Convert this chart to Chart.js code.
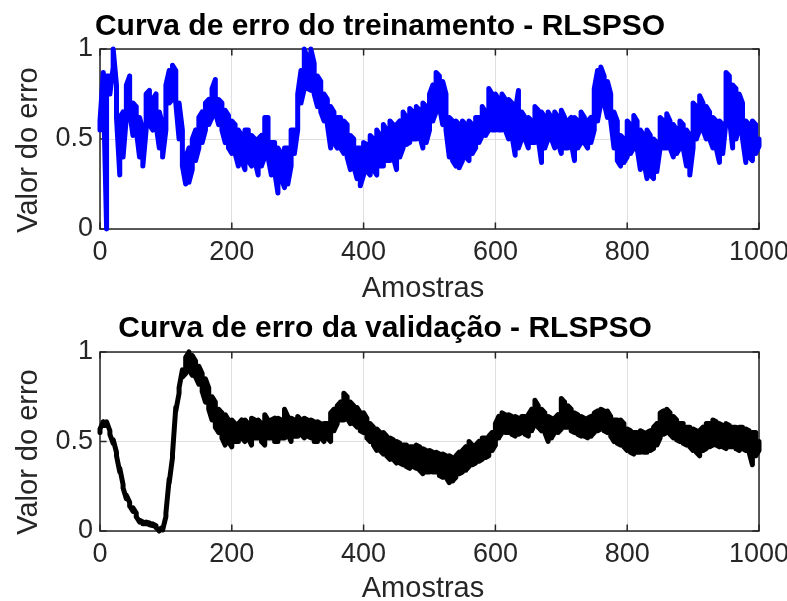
<!DOCTYPE html>
<html>
<head>
<meta charset="utf-8">
<script src="https://cdn.jsdelivr.net/npm/chart.js@4"></script>
<style>
  html, body { margin: 0; padding: 0; background: #fff; }
  #wrap { position: relative; width: 787px; height: 601px; }
  canvas { position: absolute; left: 0; }
</style>
</head>
<body>
<div id="wrap">
  <canvas id="trainChart" width="787" height="300" style="top:0"></canvas>
  <canvas id="validChart" width="787" height="301" style="top:300px"></canvas>
</div>
<script>
// the curves are very noisy, so they are read off the picture as the
// lowest and highest value inside each bucket of STEP samples (min-max)
const STEP = 5;
const trainLo = [
  0.55, 0.80, 0.00, 0.75, 0.90, 0.62, 0.30, 0.40, 0.62, 0.65,
  0.52, 0.55, 0.40, 0.35, 0.55, 0.58, 0.55, 0.58, 0.45, 0.40,
  0.55, 0.70, 0.72, 0.70, 0.50, 0.35, 0.25, 0.26, 0.33, 0.38,
  0.45, 0.48, 0.55, 0.58, 0.62, 0.65, 0.58, 0.55, 0.48, 0.45,
  0.42, 0.42, 0.35, 0.38, 0.33, 0.38, 0.35, 0.38, 0.30, 0.35,
  0.40, 0.40, 0.30, 0.32, 0.20, 0.28, 0.23, 0.25, 0.35, 0.42,
  0.55, 0.70, 0.78, 0.78, 0.77, 0.75, 0.68, 0.65, 0.60, 0.58,
  0.45, 0.48, 0.45, 0.45, 0.42, 0.40, 0.33, 0.35, 0.28, 0.24,
  0.30, 0.32, 0.30, 0.33, 0.30, 0.35, 0.35, 0.38, 0.38, 0.40,
  0.33, 0.40, 0.45, 0.47, 0.48, 0.50, 0.50, 0.52, 0.45, 0.48,
  0.55, 0.60, 0.65, 0.68, 0.58, 0.55, 0.40, 0.38, 0.35, 0.34,
  0.38, 0.40, 0.38, 0.42, 0.45, 0.48, 0.52, 0.52, 0.55, 0.55,
  0.55, 0.55, 0.55, 0.55, 0.50, 0.52, 0.41, 0.45, 0.50, 0.50,
  0.45, 0.48, 0.48, 0.50, 0.37, 0.45, 0.50, 0.50, 0.45, 0.48,
  0.42, 0.45, 0.45, 0.48, 0.38, 0.45, 0.48, 0.48, 0.45, 0.48,
  0.55, 0.60, 0.70, 0.70, 0.62, 0.60, 0.45, 0.38, 0.35, 0.37,
  0.40, 0.42, 0.45, 0.45, 0.33, 0.38, 0.28, 0.30, 0.28, 0.32,
  0.45, 0.45, 0.45, 0.45, 0.40, 0.42, 0.45, 0.45, 0.35, 0.30,
  0.45, 0.50, 0.55, 0.55, 0.50, 0.50, 0.45, 0.45, 0.37, 0.42,
  0.60, 0.62, 0.45, 0.50, 0.55, 0.50, 0.37, 0.40, 0.38, 0.42,
  0.46
];
const trainHi = [
  0.60, 0.87, 0.85, 0.85, 1.00, 0.80, 0.62, 0.65, 0.80, 0.85,
  0.70, 0.68, 0.62, 0.55, 0.75, 0.77, 0.72, 0.75, 0.65, 0.58,
  0.80, 0.88, 0.91, 0.88, 0.70, 0.55, 0.40, 0.45, 0.50, 0.55,
  0.62, 0.65, 0.70, 0.72, 0.78, 0.83, 0.72, 0.70, 0.66, 0.63,
  0.60, 0.58, 0.55, 0.52, 0.55, 0.55, 0.52, 0.50, 0.50, 0.52,
  0.62, 0.62, 0.48, 0.48, 0.45, 0.42, 0.45, 0.45, 0.55, 0.55,
  0.75, 0.88, 1.00, 0.95, 1.00, 0.92, 0.85, 0.82, 0.75, 0.72,
  0.68, 0.65, 0.62, 0.62, 0.60, 0.58, 0.52, 0.50, 0.45, 0.45,
  0.48, 0.47, 0.52, 0.50, 0.55, 0.52, 0.58, 0.55, 0.60, 0.58,
  0.58, 0.60, 0.65, 0.62, 0.67, 0.65, 0.68, 0.66, 0.70, 0.68,
  0.75, 0.80, 0.87, 0.85, 0.82, 0.75, 0.62, 0.60, 0.60, 0.58,
  0.60, 0.58, 0.60, 0.58, 0.62, 0.62, 0.68, 0.65, 0.78, 0.75,
  0.75, 0.72, 0.75, 0.72, 0.72, 0.70, 0.65, 0.77, 0.65, 0.62,
  0.62, 0.60, 0.68, 0.66, 0.65, 0.62, 0.65, 0.62, 0.65, 0.62,
  0.66, 0.62, 0.60, 0.62, 0.62, 0.60, 0.65, 0.62, 0.60, 0.62,
  0.78, 0.88, 0.90, 0.85, 0.82, 0.75, 0.65, 0.60, 0.52, 0.50,
  0.60, 0.58, 0.63, 0.60, 0.55, 0.52, 0.55, 0.52, 0.50, 0.48,
  0.62, 0.60, 0.64, 0.60, 0.58, 0.55, 0.60, 0.58, 0.55, 0.52,
  0.70, 0.68, 0.74, 0.70, 0.68, 0.65, 0.62, 0.60, 0.60, 0.58,
  0.87, 0.85, 0.80, 0.78, 0.75, 0.70, 0.60, 0.58, 0.60, 0.58,
  0.50
];
const validLo = [
  0.55, 0.59, 0.59, 0.54, 0.49, 0.42, 0.33, 0.24, 0.18, 0.14,
  0.11, 0.08, 0.05, 0.04, 0.04, 0.035, 0.03, 0.02, 0.00, 0.005,
  0.08, 0.27, 0.41, 0.67, 0.77, 0.86, 0.88, 0.90, 0.87, 0.86,
  0.82, 0.78, 0.72, 0.68, 0.62, 0.58, 0.55, 0.52, 0.48, 0.50,
  0.47, 0.50, 0.50, 0.52, 0.50, 0.52, 0.48, 0.52, 0.52, 0.50,
  0.48, 0.52, 0.52, 0.50, 0.50, 0.52, 0.52, 0.54, 0.50, 0.53,
  0.53, 0.54, 0.52, 0.53, 0.52, 0.50, 0.50, 0.52, 0.50, 0.52,
  0.50, 0.56, 0.60, 0.62, 0.62, 0.63, 0.60, 0.60, 0.58, 0.56,
  0.55, 0.52, 0.50, 0.48, 0.45, 0.45, 0.43, 0.42, 0.40, 0.40,
  0.38, 0.38, 0.37, 0.36, 0.35, 0.36, 0.35, 0.34, 0.32, 0.33,
  0.33, 0.33, 0.33, 0.31, 0.30, 0.30, 0.27, 0.28, 0.30, 0.32,
  0.33, 0.34, 0.36, 0.37, 0.38, 0.39, 0.40, 0.41, 0.42, 0.45,
  0.48, 0.52, 0.55, 0.55, 0.55, 0.54, 0.53, 0.54, 0.55, 0.54,
  0.53, 0.56, 0.60, 0.58, 0.56, 0.55, 0.50, 0.52, 0.55, 0.55,
  0.57, 0.58, 0.58, 0.56, 0.55, 0.54, 0.53, 0.53, 0.52, 0.53,
  0.55, 0.56, 0.57, 0.56, 0.55, 0.53, 0.50, 0.49, 0.48, 0.47,
  0.45, 0.44, 0.43, 0.44, 0.44, 0.44, 0.44, 0.45, 0.46, 0.48,
  0.52, 0.54, 0.55, 0.54, 0.52, 0.51, 0.50, 0.49, 0.48, 0.47,
  0.45, 0.44, 0.42, 0.45, 0.46, 0.47, 0.48, 0.48, 0.47, 0.47,
  0.46, 0.47, 0.47, 0.46, 0.45, 0.46, 0.45, 0.44, 0.37, 0.42,
  0.45
];
const validHi = [
  0.57, 0.61, 0.61, 0.56, 0.51, 0.44, 0.35, 0.26, 0.20, 0.16,
  0.13, 0.10, 0.06, 0.05, 0.05, 0.045, 0.04, 0.03, 0.01, 0.02,
  0.10, 0.29, 0.43, 0.69, 0.80, 0.90, 0.97, 1.00, 0.98, 0.95,
  0.92, 0.88, 0.85, 0.80, 0.75, 0.72, 0.68, 0.66, 0.65, 0.62,
  0.62, 0.60, 0.60, 0.62, 0.62, 0.60, 0.63, 0.62, 0.62, 0.60,
  0.65, 0.62, 0.62, 0.63, 0.63, 0.62, 0.68, 0.64, 0.63, 0.62,
  0.64, 0.62, 0.63, 0.62, 0.62, 0.61, 0.61, 0.60, 0.60, 0.60,
  0.66, 0.68, 0.70, 0.72, 0.77, 0.75, 0.72, 0.70, 0.69, 0.66,
  0.66, 0.63, 0.60, 0.58, 0.57, 0.55, 0.55, 0.53, 0.52, 0.51,
  0.50, 0.49, 0.48, 0.48, 0.47, 0.47, 0.48, 0.47, 0.46, 0.45,
  0.45, 0.44, 0.44, 0.43, 0.43, 0.42, 0.42, 0.41, 0.42, 0.44,
  0.45, 0.47, 0.50, 0.48, 0.48, 0.50, 0.52, 0.52, 0.53, 0.55,
  0.60, 0.64, 0.66, 0.65, 0.65, 0.64, 0.64, 0.63, 0.64, 0.64,
  0.65, 0.68, 0.73, 0.70, 0.68, 0.66, 0.64, 0.63, 0.63, 0.65,
  0.74, 0.72, 0.70, 0.68, 0.66, 0.65, 0.64, 0.63, 0.63, 0.64,
  0.66, 0.67, 0.68, 0.67, 0.67, 0.64, 0.62, 0.62, 0.62, 0.60,
  0.57, 0.56, 0.55, 0.55, 0.56, 0.55, 0.55, 0.56, 0.58, 0.60,
  0.66, 0.67, 0.68, 0.66, 0.64, 0.62, 0.60, 0.60, 0.58, 0.58,
  0.57, 0.56, 0.56, 0.58, 0.60, 0.60, 0.62, 0.61, 0.60, 0.59,
  0.60, 0.59, 0.58, 0.58, 0.58, 0.58, 0.57, 0.56, 0.55, 0.55,
  0.50
];
const xTicks = [0, 200, 400, 600, 800, 1000];
const yTicks = [0, 0.5, 1];

const FONT = '"Liberation Sans", Arial, Helvetica, sans-serif';
const TXT = '#262626';

// one point pair per bucket, drawn lo->hi then hi->lo so the trace zigzags
function minMaxPoints(lo, hi) {
  const pts = [];
  lo.forEach((v, i) => {
    const x = i * STEP;
    if (i % 2 === 0) { pts.push({ x, y: v }, { x, y: hi[i] }); }
    else { pts.push({ x, y: hi[i] }, { x, y: v }); }
  });
  return pts;
}

// MATLAB-like box, inward ticks, titles and labels
const decor = {
  id: 'decor',
  beforeDatasetsDraw(chart, args, o) {
    const { ctx, chartArea: a, scales: { x, y } } = chart;
    ctx.save();
    ctx.strokeStyle = TXT;
    ctx.lineWidth = 1.5;
    ctx.strokeRect(a.left, a.top, a.width, a.height);
    ctx.beginPath();
    const tl = 6.6;
    xTicks.forEach(v => {
      const px = x.getPixelForValue(v);
      ctx.moveTo(px, a.bottom); ctx.lineTo(px, a.bottom - tl);
      ctx.moveTo(px, a.top); ctx.lineTo(px, a.top + tl);
    });
    yTicks.forEach(v => {
      const py = y.getPixelForValue(v);
      ctx.moveTo(a.left, py); ctx.lineTo(a.left + tl, py);
      ctx.moveTo(a.right, py); ctx.lineTo(a.right - tl, py);
    });
    ctx.stroke();
    ctx.restore();
  },
  afterDraw(chart, args, o) {
    const { ctx } = chart;
    ctx.save();
    ctx.textBaseline = 'alphabetic';
    ctx.textAlign = 'center';
    ctx.fillStyle = '#000';
    ctx.font = 'bold 30px ' + FONT;
    ctx.fillText(o.title, o.titleX, o.titleY);
    ctx.fillStyle = TXT;
    ctx.font = '29px ' + FONT;
    ctx.fillText('Amostras', o.xlabelX, o.xlabelY);
    ctx.translate(o.ylabelX, o.ylabelY);
    ctx.rotate(-Math.PI / 2);
    ctx.fillText('Valor do erro', 0, 0);
    ctx.restore();
  }
};

function makeChart(id, lo, hi, color, canvasH, areaTop, areaBottom, deco) {
  return new Chart(document.getElementById(id), {
    type: 'line',
    data: {
      datasets: [{
        data: minMaxPoints(lo, hi),
        borderColor: color,
        borderWidth: 5,
        borderJoinStyle: 'round',
        borderCapStyle: 'round',
        pointRadius: 0,
        tension: 0,
        clip: 5
      }]
    },
    plugins: [decor],
    options: {
      responsive: false,
      animation: false,
      events: [],
      layout: { padding: { left: 0, right: 28, top: areaTop, bottom: 0 } },
      plugins: {
        legend: { display: false },
        title: { display: false },
        tooltip: { enabled: false },
        decor: deco
      },
      scales: {
        x: {
          type: 'linear',
          min: 0, max: 1000,
          afterBuildTicks: s => { s.ticks = xTicks.map(v => ({ value: v })); },
          afterFit: s => {
            s.height = canvasH - areaBottom;
            s.paddingLeft = 0; s.paddingRight = 0;
          },
          border: { display: false },
          grid: { color: '#dfdfdf', lineWidth: 1, drawTicks: false },
          ticks: {
            padding: 7,
            maxRotation: 0,
            autoSkip: false,
            color: TXT,
            font: { family: FONT, size: 27 },
            callback: v => String(v)
          }
        },
        y: {
          min: 0, max: 1,
          afterBuildTicks: s => { s.ticks = yTicks.map(v => ({ value: v })); },
          afterFit: s => {
            s.width = 100;
            s.paddingTop = 0; s.paddingBottom = 0;
          },
          border: { display: false },
          grid: { color: '#dfdfdf', lineWidth: 1, drawTicks: false },
          ticks: {
            padding: 7,
            color: TXT,
            font: { family: FONT, size: 27 },
            callback: v => String(v)
          }
        }
      }
    }
  });
}

makeChart('trainChart', trainLo, trainHi, '#0000ff', 300, 49, 229, {
  title: 'Curva de erro do treinamento - RLSPSO',
  titleX: 380, titleY: 35,
  xlabelX: 423, xlabelY: 297,
  ylabelX: 37, ylabelY: 150
});
makeChart('validChart', validLo, validHi, '#000000', 301, 52, 231, {
  title: 'Curva de erro da validação - RLSPSO',
  titleX: 385, titleY: 37,
  xlabelX: 423, xlabelY: 297,
  ylabelX: 37, ylabelY: 152
});
</script>
</body>
</html>
